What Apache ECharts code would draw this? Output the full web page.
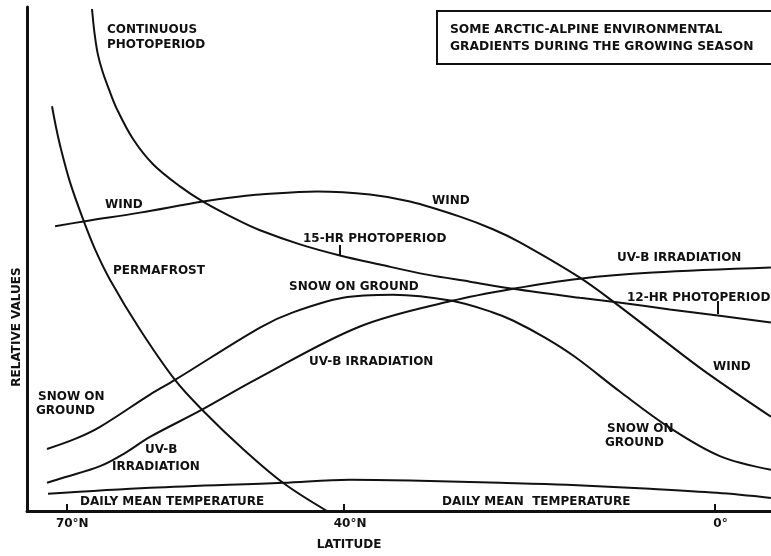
<!DOCTYPE html>
<html>
<head>
<meta charset="utf-8">
<script src="https://cdn.jsdelivr.net/npm/echarts@6/dist/echarts.min.js"></script>
<style>html,body{margin:0;padding:0;background:#fff}#chart{width:771px;height:556px}</style>
</head>
<body>
<div id="chart"></div>
<script>
// Latitude ticks
const tickValues = [70, 40, 0];
const tickLabels = ['70°N', '40°N', '0°'];

// Photoperiod (continuous -> 15-hr -> 12-hr)
const photoLat = [67.22, 66.95, 66.60, 66.10, 65.40, 64.52, 62.79, 60.63, 57.72, 55.24, 51.24, 49.08, 44.76, 40.45, 36.13, 31.05, 26.41, 21.77, 14.54, 10.54, 4.82, -0.36, -6.09];
const photoVal = [99.6, 94.8, 90.7, 87.3, 83.7, 79.7, 73.8, 68.8, 64.4, 61.4, 57.5, 55.7, 52.9, 50.7, 48.9, 46.9, 45.5, 44.1, 42.3, 41.4, 40.0, 38.8, 37.4];

// Wind
const windLat = [71.21, 67.97, 62.04, 55.24, 51.24, 49.08, 42.93, 37.21, 32.89, 27.49, 23.93, 21.01, 14.54, 10.54, 5.58, 0.82, -6.09];
const windVal = [56.5, 57.5, 59.2, 61.4, 62.4, 62.8, 63.4, 62.8, 61.4, 58.4, 55.9, 53.3, 46.3, 41.0, 34.0, 27.4, 18.7];

// Permafrost
const permaLat = [71.54, 71.10, 70.57, 69.59, 68.19, 66.89, 65.28, 62.04, 58.26, 55.34, 50.92, 46.60, 41.85];
const permaVal = [80.3, 76.1, 71.8, 65.2, 57.9, 51.9, 45.9, 36.0, 26.0, 20.1, 12.3, 5.6, 0];

// Snow on ground
const snowLat = [72.08, 69.05, 66.35, 60.96, 58.26, 49.08, 45.52, 40.12, 34.72, 28.35, 23.93, 21.77, 18.31, 15.08, 10.22, 4.82, -0.58, -6.09];
const snowVal = [12.3, 14.3, 16.7, 23.1, 26.0, 36.4, 39.4, 42.3, 42.9, 41.7, 39.4, 37.8, 34.4, 30.6, 23.7, 16.5, 10.9, 8.2];

// UV-B irradiation
const uvbLat = [72.08, 70.35, 66.35, 63.66, 60.96, 55.34, 49.41, 38.29, 28.35, 21.77, 14.54, 6.65, -6.09];
const uvbVal = [5.6, 6.6, 8.9, 11.5, 14.7, 20.1, 26.2, 36.6, 41.7, 44.1, 46.1, 47.3, 48.3];

// Daily mean temperature
const tempLat = [71.97, 60.96, 46.60, 39.37, 31.81, 23.17, 15.94, 6.98, -0.26, -6.09];
const tempVal = [3.4, 4.6, 5.6, 6.2, 6.0, 5.6, 5.2, 4.4, 3.6, 2.6];

const zip = (a, b) => a.map((v, i) => [v, b[i]]);
const INK = '#111';
const FONT = 'bold 12px "DejaVu Sans"';

function line(name, lat, val) {
  return {
    name, type: 'line', data: zip(lat, val), symbol: 'none', smooth: 0.35,
    lineStyle: { color: INK, width: 2 }, silent: true, clip: true
  };
}

function txt(text, x, y, extra) {
  return Object.assign({
    type: 'text', x, y,
    style: { text, font: FONT, fill: INK, align: 'left', verticalAlign: 'middle' }
  }, extra || {});
}

const labels = [
  ['CONTINUOUS', 107, 30], ['PHOTOPERIOD', 107, 45],
  ['WIND', 105, 205], ['PERMAFROST', 113, 271],
  ['SNOW ON', 38, 397], ['GROUND', 36, 411],
  ['UV-B', 145, 450], ['IRRADIATION', 112, 467],
  ['DAILY MEAN TEMPERATURE', 80, 502], ['DAILY MEAN  TEMPERATURE', 442, 502],
  ['WIND', 432, 201], ['15-HR PHOTOPERIOD', 303, 239],
  ['SNOW ON GROUND', 289, 287], ['UV-B IRRADIATION', 309, 362],
  ['UV-B IRRADIATION', 617, 258], ['12-HR PHOTOPERIOD', 627, 298],
  ['WIND', 713, 367], ['SNOW ON', 607, 429], ['GROUND', 605, 443]
];

const titleFont = 'bold 12.3px "DejaVu Sans"';
const graphics = [
  { type: 'rect', shape: { x: 437, y: 11, width: 340, height: 53 }, style: { fill: '#fff', stroke: INK, lineWidth: 2 }, z: 1 },
  { type: 'text', x: 450, y: 30, z: 2, style: { text: 'SOME ARCTIC-ALPINE ENVIRONMENTAL', font: titleFont, fill: INK, align: 'left', verticalAlign: 'middle' } },
  { type: 'text', x: 450, y: 47, z: 2, style: { text: 'GRADIENTS DURING THE GROWING SEASON', font: titleFont, fill: INK, align: 'left', verticalAlign: 'middle' } }
].concat(labels.map(l => txt(l[0], l[1], l[2], { z: 2 })));

graphics.push({ type: 'line', shape: { x1: 340, y1: 245, x2: 340, y2: 256 }, style: { stroke: INK, lineWidth: 2 } });
graphics.push({ type: 'line', shape: { x1: 718, y1: 301, x2: 718, y2: 314 }, style: { stroke: INK, lineWidth: 2 } });
graphics.push({ type: 'text', x: 17, y: 327, rotation: Math.PI / 2,
  style: { text: 'RELATIVE VALUES', font: FONT, fill: INK, align: 'center', verticalAlign: 'middle' } });
graphics.push({ type: 'text', x: 349, y: 545,
  style: { text: 'LATITUDE', font: FONT, fill: INK, align: 'center', verticalAlign: 'middle' } });

const chart = echarts.init(document.getElementById('chart'), null, { renderer: 'canvas' });
chart.setOption({
  animation: false,
  backgroundColor: '#fff',
  grid: { left: 27, right: 0, top: 7, bottom: 45, containLabel: false },
  xAxis: {
    type: 'value', inverse: true, min: -6.1, max: 74.24,
    axisLine: { show: true, onZero: false, lineStyle: { color: INK, width: 3 } },
    axisTick: { show: true, inside: true, length: 7, customValues: tickValues, lineStyle: { color: INK, width: 2 } },
    axisLabel: {
      show: true, customValues: tickValues, margin: 7,
      formatter: v => tickLabels[tickValues.indexOf(v)],
      fontFamily: 'DejaVu Sans', fontWeight: 'bold', fontSize: 12, color: INK,
      padding: [0, 0, 0, 12]
    },
    splitLine: { show: false }
  },
  yAxis: {
    type: 'value', min: 0, max: 100, position: 'left',
    axisLine: { show: true, onZero: false, lineStyle: { color: INK, width: 3 } },
    axisTick: { show: false }, axisLabel: { show: false }, splitLine: { show: false }
  },
  series: [
    line('Photoperiod', photoLat, photoVal),
    line('Wind', windLat, windVal),
    line('Permafrost', permaLat, permaVal),
    line('Snow on ground', snowLat, snowVal),
    line('UV-B irradiation', uvbLat, uvbVal),
    line('Daily mean temperature', tempLat, tempVal)
  ],
  graphic: graphics
});
</script>
</body>
</html>
